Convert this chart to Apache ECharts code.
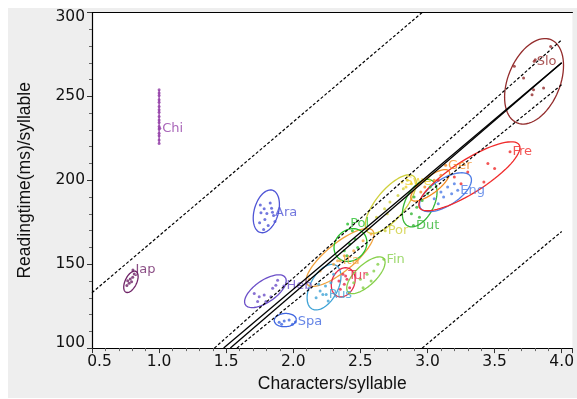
<!DOCTYPE html>
<html>
<head>
<meta charset="utf-8">
<script src="https://cdn.jsdelivr.net/npm/echarts@6/dist/echarts.min.js"></script>
<style>
  html, body { margin: 0; padding: 0; background: #fff; }
  #chart { position: absolute; left: 8px; top: 8px; width: 569px; height: 390px; }
</style>
</head>
<body>
<div id="chart"></div>
<script>
// languages, colours and label anchors (same order everywhere)
const langs = ['Chi', 'Jap', 'Ara', 'Heb', 'Spa', 'Rus', 'Ita', 'Tur', 'Fin', 'Pol', 'Por', 'Swe', 'Dut', 'Ger', 'Eng', 'Fre', 'Slo'];
const langColors = ['#9440a8', '#6e2266', '#4f55d6', '#6b4fc8', '#3f66e0', '#3fa3d6', '#f2a23c', '#e52a48', '#86d04a',
  '#26bf2a', '#cfd03c', '#f0d028', '#35b535', '#f28a22', '#4d7ce6', '#f02a2a', '#932b2b'];
const labelPos = [[1.005, 231], [0.805, 146.5], [1.845, 181], [1.93, 137], [2.015, 115.5], [2.245, 132], [2.35, 152],
  [2.39, 143], [2.675, 153], [2.405, 174], [2.685, 170], [2.81, 199], [2.895, 173], [3.135, 209], [3.225, 194], [3.615, 217], [3.795, 271]];

// ellipses: [centre x, centre y, major-axis end x, major-axis end y, minor/major ratio], null = none
const ellipses = [
  [1.0, 238, 1.0, 254, 0], [0.79, 139.5, 0.827, 145.7, 0.5], [1.799, 181.5, 1.844, 194.1, 0.55], [1.792, 133.9, 1.94, 142.1, 0.45],
  [1.94, 116.7, 2.022, 117.1, 0.6], [2.229, 136.3, 2.318, 149.3, 0.55], [2.348, 154, 2.592, 170, 0.33], [2.372, 139.2, 2.415, 147.5, 0.75],
  [2.541, 143.4, 2.674, 153.4, 0.42], [2.426, 161.4, 2.52, 168.8, 0.85], [2.726, 185.8, 2.897, 202.4, 0.4], null,
  [2.942, 186.4, 3.031, 200, 0.55], [3.02, 197, 3.16, 205.5, 0.35], [3.134, 192.9, 3.32, 202.4, 0.45],
  [3.312, 202.4, 3.683, 221.2, 0.28], [3.794, 259, 3.92, 283.8, 0.58]
];

// points per language
const chiPts = [[1, 222], [1, 224], [1, 226.5], [1, 228], [1, 230.5], [1, 232], [1, 234.5], [1, 236], [1, 238], [1, 240.5], [1, 242], [1, 244], [1, 246.5], [1, 248], [1, 250.5], [1, 252], [1, 254]];
const japPts = [[0.766, 140.2], [0.785, 141.2], [0.803, 142.2], [0.76, 137.3], [0.777, 138.6], [0.815, 144.1], [0.795, 139.6]];
const araPts = [[1.754, 185.3], [1.783, 183], [1.759, 180.6], [1.803, 180.2], [1.838, 183.4], [1.853, 179], [1.788, 176.6], [1.749, 174.7], [1.813, 173.1], [1.863, 175.5], [1.779, 170.7], [1.828, 186.5]];
const hebPts = [[1.709, 132.6], [1.746, 130.6], [1.734, 127.7], [1.783, 131.6], [1.796, 127.7], [1.846, 135.6], [1.87, 137.5], [1.883, 140.5], [1.833, 130.6]];
const spaPts = [[1.895, 115.4], [1.913, 114.2], [1.969, 116.8], [1.994, 114.2], [1.932, 116.2]];
const rusPts = [[2.17, 130], [2.2, 134], [2.24, 137], [2.28, 139], [2.22, 132], [2.3, 144], [2.26, 128], [2.19, 138]];
const itaPts = [[2.12, 141], [2.2, 146], [2.3, 150], [2.38, 155], [2.45, 158], [2.52, 164], [2.58, 168], [2.33, 152]];
const turPts = [[2.35, 135], [2.38, 138], [2.4, 141], [2.37, 144], [2.42, 136], [2.34, 140]];
const finPts = [[2.45, 139], [2.5, 141], [2.55, 144], [2.6, 146], [2.63, 150], [2.52, 136], [2.58, 140]];
const polPts = [[2.38, 158], [2.42, 162], [2.46, 165], [2.4, 155], [2.48, 160], [2.44, 170]];
const porPts = [[2.62, 178], [2.68, 183], [2.72, 187], [2.78, 191], [2.82, 195], [2.7, 180], [2.85, 200]];
const swePts = [[2.84, 196], [2.88, 198]];
const dutPts = [[2.88, 180], [2.92, 184], [2.96, 188], [3.0, 192], [2.94, 178], [3.02, 196], [2.9, 190]];
const gerPts = [[2.98, 196], [3.05, 200], [3.1, 203], [2.95, 193]];
const engPts = [[3.05, 189], [3.1, 193], [3.15, 196], [3.2, 198], [3.08, 186], [3.12, 190], [3.18, 192]];
const frePts = [[3.08, 200], [3.2, 202], [3.3, 205], [3.45, 210], [3.5, 207], [3.42, 199], [3.25, 198]];
const sloPts = [[3.918, 279.7], [3.803, 271.9], [3.716, 261], [3.779, 251], [3.865, 255], [3.79, 254], [3.647, 267.9]];
const pointSets = [chiPts, japPts, araPts, hebPts, spaPts, rusPts, itaPts, turPts, finPts, polPts, porPts, swePts, dutPts, gerPts, engPts, frePts, sloPts];

// regression line and bands
const fitA = [[1.481, 100], [4.0, 270]];
const fitB = [[1.531, 100], [4.0, 270]];
const bandUpper = [[1.412, 100], [4.0, 283.7]];
const bandLower = [[1.58, 100], [4.0, 257]];
const predUpper = [[0.5, 133], [2.96, 300]];
const predLower = [[2.96, 100], [4.0, 169.5]];

const xTicks = { min: 0.5, max: 4.08, interval: 0.5 };
const yTicks = { min: 100, max: 300, interval: 50 };

const myChart = echarts.init(document.getElementById('chart'));

function renderEllipse(params, api) {
  const c = api.coord([api.value(0), api.value(1)]);
  const e = api.coord([api.value(2), api.value(3)]);
  const ratio = api.value(4);
  const color = langColors[api.value(5)];
  const dx = e[0] - c[0], dy = e[1] - c[1];
  const pts = [];
  for (let i = 0; i <= 72; i++) {
    const t = i / 72 * Math.PI * 2;
    pts.push([
      c[0] + Math.cos(t) * dx - Math.sin(t) * ratio * dy,
      c[1] + Math.cos(t) * dy + Math.sin(t) * ratio * dx
    ]);
  }
  return {
    type: 'polyline',
    shape: { points: pts },
    style: { fill: 'none', stroke: color, lineWidth: 1.3 }
  };
}

const ellipseData = ellipses
  .map((e, i) => e ? [...e, i] : null)
  .filter(Boolean);

const lineSeries = [
  { data: fitA, type: 'solid' },
  { data: fitB, type: 'solid' },
  { data: bandUpper, type: [3, 2] },
  { data: bandLower, type: [3, 2] },
  { data: predUpper, type: [3, 2] },
  { data: predLower, type: [3, 2] }
].map(l => ({
  type: 'line',
  data: l.data,
  symbol: 'none',
  silent: true,
  z: 5,
  lineStyle: { color: '#000', width: l.type === 'solid' ? 1.3 : 1.2, type: l.type }
}));

const tickFont = { fontFamily: 'DejaVu Sans', fontSize: 15.5, color: '#111' };
const nameFont = { fontFamily: 'Liberation Sans', fontSize: 17.5, color: '#111' };

myChart.setOption({
  backgroundColor: '#eeeeee',
  animation: false,
  grid: {
    left: 82.9, right: 4, top: 4.5, bottom: 46.5,
    show: true, backgroundColor: '#ffffff', borderWidth: 0
  },
  xAxis: [{
    type: 'value',
    ...xTicks,
    name: 'Characters/syllable',
    nameLocation: 'middle',
    nameGap: 26,
    nameTextStyle: nameFont,
    splitLine: { show: false },
    axisLine: { show: true, lineStyle: { color: '#000', width: 1.2 } },
    axisTick: { show: true, length: 5, lineStyle: { color: '#333' } },
    minorTick: { show: true, splitNumber: 5, length: 3, lineStyle: { color: '#666' } },
    axisLabel: {
      ...tickFont, margin: 6, showMaxLabel: false,
      formatter: v => v === xTicks.min ? '{lo|' + v.toFixed(1) + '}' : v.toFixed(1),
      rich: { lo: { ...tickFont, padding: [0, 0, 0, 15] } }
    }
  }, {
    type: 'value',
    position: 'top',
    ...xTicks,
    axisLine: { show: true, onZero: false, lineStyle: { color: '#000', width: 1.2 } },
    axisTick: { show: false },
    axisLabel: { show: false },
    splitLine: { show: false }
  }],
  yAxis: {
    type: 'value',
    ...yTicks,
    name: 'Readingtime(ms)/syllable',
    nameLocation: 'middle',
    nameGap: 58,
    nameTextStyle: nameFont,
    splitLine: { show: false },
    axisLine: { show: true, lineStyle: { color: '#000', width: 1.2 } },
    axisTick: { show: true, length: 5, lineStyle: { color: '#333' } },
    minorTick: { show: true, splitNumber: 5, length: 3, lineStyle: { color: '#666' } },
    axisLabel: {
      ...tickFont, margin: 7,
      formatter: v => v === yTicks.min ? '{lo|' + v + '}' : v === yTicks.max ? '{hi|' + v + '}' : String(v),
      rich: {
        lo: { ...tickFont, padding: [0, 0, 10, 0] },
        hi: { ...tickFont, padding: [9, 0, 0, 0] }
      }
    }
  },
  series: [
    {
      type: 'custom',
      renderItem: renderEllipse,
      data: ellipseData,
      encode: { x: [0, 2], y: [1, 3] },
      clip: true,
      silent: true,
      z: 2
    },
    ...pointSets.map((pts, i) => ({
      type: 'scatter',
      data: pts,
      symbolSize: 3,
      itemStyle: { color: langColors[i] },
      silent: true,
      z: 3
    })),
    {
      type: 'scatter',
      data: langs.map((name, i) => ({
        name,
        value: labelPos[i],
        itemStyle: { color: langColors[i] },
        label: { color: langColors[i] }
      })),
      symbolSize: 3,
      silent: true,
      z: 3,
      label: {
        show: true,
        position: 'right',
        distance: 1,
        formatter: p => p.name,
        fontFamily: 'DejaVu Sans',
        fontSize: 13
      }
    },
    ...lineSeries
  ]
});
</script>
</body>
</html>
